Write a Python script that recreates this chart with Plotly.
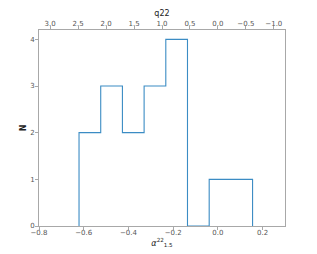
import plotly.graph_objects as go

# Histogram data
bin_edges = [-0.621, -0.524, -0.427, -0.330, -0.233, -0.136, -0.039, 0.058, 0.155]
counts = [2, 3, 2, 3, 4, 0, 1, 1]

x_ticks = [-0.8, -0.6, -0.4, -0.2, 0.0, 0.2]
y_ticks = [0, 1, 2, 3, 4]
q_ticks = [3.0, 2.5, 2.0, 1.5, 1.0, 0.5, 0.0, -0.5, -1.0]

step_x = [bin_edges[0]] + bin_edges
step_y = [0] + counts + [0]

GRAY = "#a8a8a8"
TXT = "#555555"
FONT = "DejaVu Sans"

fig = go.Figure()
fig.add_trace(go.Scatter(x=step_x, y=step_y, mode="lines", line=dict(color="#3b8cc4", width=1.1, shape="hv"),
                         showlegend=False, hoverinfo="skip"))
fig.add_trace(go.Scatter(x=[0.0], y=[0], xaxis="x2", mode="markers", marker=dict(opacity=0),
                         showlegend=False, hoverinfo="skip"))

# page body has an 8px margin, so the figure is shifted by 8px
fig.update_layout(
    width=309, height=246,
    margin=dict(l=31, r=32, t=22, b=28),
    paper_bgcolor="white", plot_bgcolor="white",
    font=dict(family=FONT, size=7, color=TXT),
    xaxis=dict(range=[-0.8, 0.3], tickvals=x_ticks, ticktext=[f"{v:.1f}".replace("-", "\u2212") for v in x_ticks],
               showgrid=False, zeroline=False, showline=True, linecolor=GRAY, linewidth=1, mirror=False,
               ticks="outside", ticklen=3, tickcolor=GRAY, tickfont=dict(size=7, color=TXT), automargin=False,
               ticklabelstandoff=-3,
               title=dict(text="<i>α</i><sup>22</sup><sub>1.5</sub>", font=dict(size=8, color="#222"), standoff=3)),
    xaxis2=dict(range=[3.2, -1.2], overlaying="x", side="top", tickvals=q_ticks,
                ticktext=[f"{v:.1f}".replace("-", "\u2212") for v in q_ticks],
                showgrid=False, zeroline=False, showline=True, linecolor=GRAY, linewidth=1,
                ticks="outside", ticklen=3, tickcolor=GRAY, tickfont=dict(size=7, color=TXT), automargin=False,
                ticklabelstandoff=-3,
                title=dict(text="q22", font=dict(size=8, color="#222"), standoff=2)),
    yaxis=dict(range=[0, 4.2], tickvals=y_ticks, showgrid=False, zeroline=False, showline=True, linecolor=GRAY,
               linewidth=1, mirror=True, ticks="outside", ticklen=3, tickcolor=GRAY, automargin=False,
               tickfont=dict(size=7, color=TXT), ticklabelstandoff=-1,
               title=dict(text="<b>N</b>", font=dict(size=8, color="#222"), standoff=2)),
)

fig.write_html("out.html")
